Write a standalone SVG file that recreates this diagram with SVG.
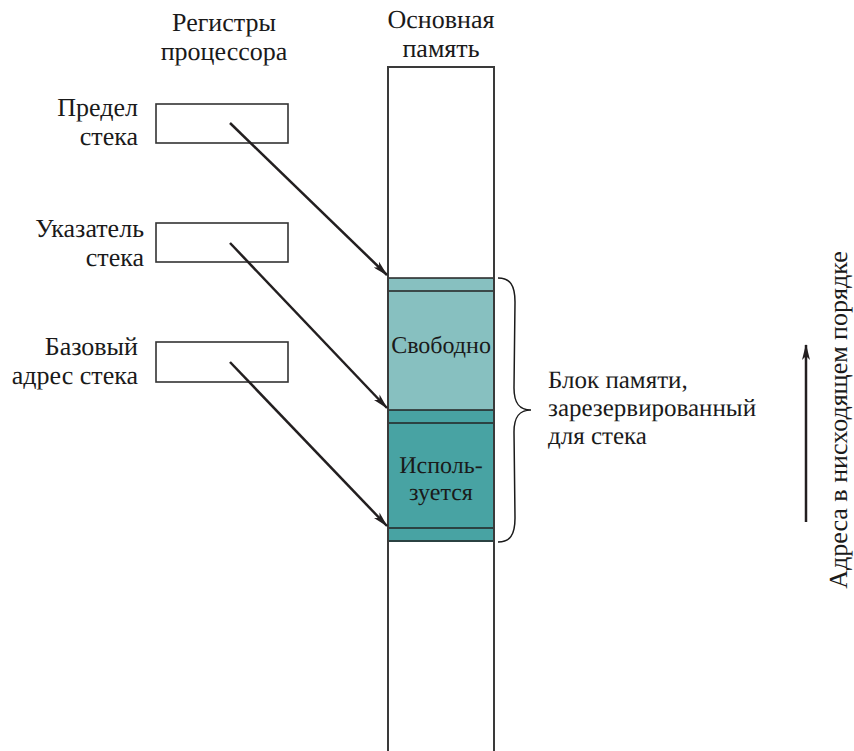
<svg xmlns="http://www.w3.org/2000/svg" width="854" height="751" viewBox="0 0 854 751" text-rendering="geometricPrecision">
<defs>
<style>
text{font-family:'Liberation Serif','Times New Roman',Tinos,'DejaVu Serif',serif;font-size:24px;fill:#1a1a1a}
.lbl{font-size:26px}
.hdr{font-size:26px}
.blk{font-size:25px}
.vert{font-size:26px}
.reg{fill:#fff;stroke:#333;stroke-width:1.6}
.col{stroke:#3a3a3a;stroke-width:2;fill:none}
.div{stroke:#222;stroke-width:1.5}
.conn{stroke:#231f20;stroke-width:2.5;fill:none}
.free{fill:#87c0c0}
.used{fill:#48a3a3}
</style>
<marker id="ah" viewBox="0 0 16 8" refX="15" refY="4" markerWidth="16" markerHeight="8" markerUnits="userSpaceOnUse" orient="auto">
<path d="M0,0 L16,4 L0,8 L4,4 Z" fill="#231f20"/>
</marker>
</defs>
<rect width="854" height="751" fill="#fff"/>
<g id="headers">
<text class="hdr" x="224" y="31" text-anchor="middle">Регистры</text>
<text class="hdr" x="224" y="60" text-anchor="middle">процессора</text>
<text class="hdr" x="441" y="28" text-anchor="middle">Основная</text>
<text class="hdr" x="441" y="57" text-anchor="middle">память</text>
</g>
<g id="memory">
<rect class="free" x="388" y="278" width="106" height="132"/>
<rect class="used" x="388" y="410" width="106" height="132"/>
<line class="div" x1="388" y1="278" x2="494" y2="278"/>
<line class="div" x1="388" y1="291" x2="494" y2="291"/>
<line class="div" x1="388" y1="410" x2="494" y2="410"/>
<line class="div" x1="388" y1="423" x2="494" y2="423"/>
<line class="div" x1="388" y1="528" x2="494" y2="528"/>
<line class="div" x1="388" y1="541" x2="494" y2="541"/>
<path class="col" d="M388,751 V67 H494 V751"/>
<text x="441" y="353" text-anchor="middle">Свободно</text>
<text x="441" y="473" text-anchor="middle">Исполь-</text>
<text x="441" y="500" text-anchor="middle">зуется</text>
</g>
<g id="reg-limit">
<rect class="reg" x="156" y="104" width="132" height="39"/>
<text class="lbl" x="138" y="116" text-anchor="end">Предел</text>
<text class="lbl" x="138" y="145" text-anchor="end">стека</text>
</g>
<g id="reg-pointer">
<rect class="reg" x="156" y="223" width="132" height="39"/>
<text class="lbl" x="144" y="237" text-anchor="end">Указатель</text>
<text class="lbl" x="144" y="266" text-anchor="end">стека</text>
</g>
<g id="reg-base">
<rect class="reg" x="156" y="342" width="132" height="40"/>
<text class="lbl" x="138" y="355" text-anchor="end">Базовый</text>
<text class="lbl" x="138" y="384" text-anchor="end">адрес стека</text>
</g>
<g id="brace">
<path d="M498,278 C510,278 515,285 515,302 L514,388 C514,403 519,410 531,410 C519,410 514,417 514,432 L515,518 C515,535 510,542 498,542" fill="none" stroke="#1a1a1a" stroke-width="1.5"/>
<text class="blk" x="548" y="388">Блок памяти,</text>
<text class="blk" x="548" y="416">зарезервированный</text>
<text class="blk" x="548" y="444">для стека</text>
</g>
<g id="direction">
<line class="conn" x1="806" y1="522" x2="806" y2="345" marker-end="url(#ah)"/>
<text class="vert" transform="translate(847,420) rotate(-90)" text-anchor="middle">Адреса в нисходящем порядке</text>
</g>
<g id="connectors">
<line class="conn" x1="230" y1="123" x2="387" y2="275" marker-end="url(#ah)"/>
<line class="conn" x1="230" y1="243" x2="387" y2="408" marker-end="url(#ah)"/>
<line class="conn" x1="230" y1="362" x2="387" y2="526" marker-end="url(#ah)"/>
</g>
</svg>
